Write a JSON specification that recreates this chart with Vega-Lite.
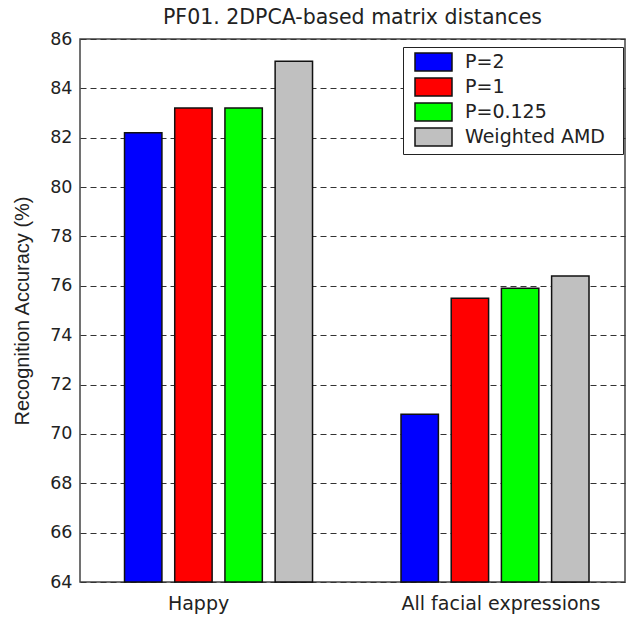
{
  "$schema": "https://vega.github.io/schema/vega-lite/v6.json",
  "autosize": {"type": "none"},
  "padding": {"left": 80, "top": 39, "right": 5, "bottom": 38},
  "width": 545,
  "height": 543,
  "background": "white",
  "title": {
    "text": "PF01. 2DPCA-based matrix distances",
    "font": "DejaVu Sans",
    "fontSize": 20.5,
    "fontWeight": "normal",
    "color": "#222222",
    "anchor": "middle",
    "offset": 2
  },
  "data": {
    "values": [
      {"group": "Happy", "method": "P=2", "accuracy": 82.2},
      {"group": "Happy", "method": "P=1", "accuracy": 83.2},
      {"group": "Happy", "method": "P=0.125", "accuracy": 83.2},
      {"group": "Happy", "method": "Weighted AMD", "accuracy": 85.1},
      {"group": "All facial expressions", "method": "P=2", "accuracy": 70.8},
      {"group": "All facial expressions", "method": "P=1", "accuracy": 75.5},
      {"group": "All facial expressions", "method": "P=0.125", "accuracy": 75.9},
      {"group": "All facial expressions", "method": "Weighted AMD", "accuracy": 76.4}
    ]
  },
  "mark": {"type": "bar", "stroke": "#111111", "strokeWidth": 1.5},
  "encoding": {
    "x": {
      "field": "group",
      "type": "nominal",
      "sort": ["Happy", "All facial expressions"],
      "scale": {"paddingInner": 0.32, "paddingOuter": 0.1456, "align": 0.553},
      "axis": {
        "title": null,
        "labelAngle": 0,
        "ticks": false,
        "domain": false,
        "labelFont": "DejaVu Sans",
        "labelFontSize": 19,
        "labelColor": "#222222",
        "labelPadding": 12,
        "labelLimit": 400,
        "labelOffset": {"condition": {"test": "datum.value === 'Happy'", "value": -20}, "value": 6}
      }
    },
    "xOffset": {
      "field": "method",
      "type": "nominal",
      "sort": ["P=2", "P=1", "P=0.125", "Weighted AMD"],
      "scale": {"paddingInner": 0.255, "paddingOuter": 0}
    },
    "y": {
      "field": "accuracy",
      "type": "quantitative",
      "scale": {"domain": [64, 86], "zero": false, "nice": false},
      "axis": {
        "title": "Recognition Accuracy (%)",
        "values": [64, 66, 68, 70, 72, 74, 76, 78, 80, 82, 84, 86],
        "grid": true,
        "gridDash": [6, 4],
        "gridColor": "#333333",
        "gridWidth": 1.2,
        "gridOpacity": 1,
        "ticks": false,
        "domain": false,
        "labelFont": "DejaVu Sans",
        "labelFontSize": 17.5,
        "labelColor": "#222222",
        "labelPadding": 8,
        "titleFont": "Liberation Sans",
        "titleFontSize": 20,
        "titleFontWeight": "normal",
        "titleColor": "#222222",
        "titlePadding": 17
      }
    },
    "y2": {"datum": 64},
    "color": {
      "field": "method",
      "type": "nominal",
      "scale": {
        "domain": ["P=2", "P=1", "P=0.125", "Weighted AMD"],
        "range": ["#0000FF", "#FF0000", "#00FF00", "#C0C0C0"]
      },
      "legend": {
        "title": " ",
        "titleOrient": "right",
        "titlePadding": 13,
        "titleFont": "DejaVu Sans",
        "titleFontSize": 19,
        "orient": "none",
        "legendX": 323,
        "legendY": 8,
        "padding": 5,
        "strokeColor": "#222222",
        "fillColor": "white",
        "symbolType": "M-0.333,-1H3.778V1H-0.333Z",
        "symbolSize": 324,
        "symbolStrokeColor": "#111111",
        "symbolStrokeWidth": 1.5,
        "symbolOpacity": 1,
        "labelFont": "DejaVu Sans",
        "labelFontSize": 19,
        "labelColor": "#222222",
        "labelOffset": 37,
        "labelLimit": 300,
        "rowPadding": 1
      }
    }
  },
  "config": {
    "view": {"stroke": "#444444", "strokeWidth": 1.5}
  }
}
